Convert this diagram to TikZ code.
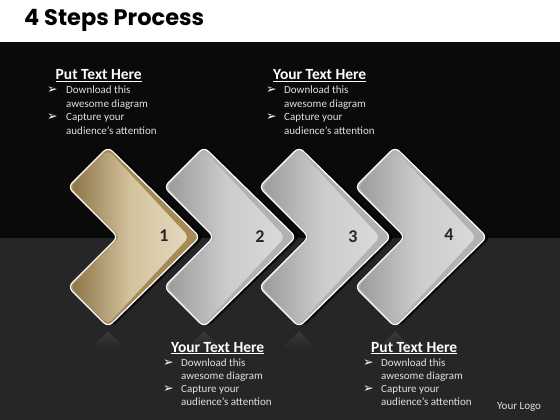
\documentclass[tikz,border=0pt]{standalone}
\usepackage{fontspec}
\setmainfont{Carlito}
\newfontfamily\titlefont{Poppins}
\newfontfamily\symfont{DejaVu Sans}
\usetikzlibrary{fadings}
\definecolor{goldD}{HTML}{8A7346}
\definecolor{goldM}{HTML}{D4C29D}
\definecolor{goldL}{HTML}{E4D9BF}
\definecolor{goldB}{HTML}{A58A55}
\definecolor{grayD}{HTML}{9A9A9A}
\definecolor{grayM}{HTML}{CBCBCB}
\definecolor{grayL}{HTML}{DADADA}
\definecolor{grayB}{HTML}{B2B2B2}
\newcommand\chevouter[1]{(#1+0,187) -- (#1+40,147) -- (#1+132,237) -- (#1+40,327) -- (#1+0,287) -- (#1+50,237) -- cycle}
\newcommand\chevinner[1]{(#1+3,187) -- (#1+40,150) -- (#1+121,237) -- (#1+40,324) -- (#1+3,287) -- (#1+52,237) -- cycle}
\tikzset{
  numtxt/.style={font=\bfseries\fontsize{18}{18}\selectfont, text=black!85},
  headtxt/.style={anchor=base west, font=\bfseries\fontsize{15.5}{16}\selectfont, text=white, inner sep=0},
  bodytxt/.style={anchor=base west, font=\fontsize{11}{12}\selectfont, text=black!12, inner sep=0},
  bultxt/.style={anchor=base west, font=\symfont\fontsize{12.5}{12}\selectfont, text=white, inner sep=0},
}
\begin{document}
\begin{tikzpicture}[x=1pt,y=-1pt]
\useasboundingbox (0,0) rectangle (560,420);
\fill[white] (0,0) rectangle (560,42);
\fill[black!96] (0,42) rectangle (560,238);
\fill[black!85] (0,238) rectangle (560,420);
\node[anchor=base west, inner sep=0, font=\titlefont\bfseries\fontsize{22.5}{24}\selectfont, text=black] (title) at (24,26) {4 Steps Process};
% reflections
\foreach \ox in {68,164,259,355}{
  \fill[white, opacity=0.09, path fading=south] (\ox+40,331) -- (\ox+22,349) -- (\ox+58,349) -- cycle;
}
% chevrons
\foreach \ox/\cb/\cd/\cm/\cl in {355/grayB/grayD/grayM/grayL,259/grayB/grayD/grayM/grayL,164/grayB/grayD/grayM/grayL,68/goldB/goldD/goldM/goldL}{
  \fill[black, opacity=0.85, rounded corners=6] \chevouter{\ox+4};
  \fill[\cb, draw=white, line width=1.2pt, rounded corners=6] \chevouter{\ox};
  \shade[left color=\cd, right color=\cl, middle color=\cm, rounded corners=5] \chevinner{\ox};
}
\node[numtxt] (n1) at (164,236) {1};
\node[numtxt] (n2) at (260,237) {2};
\node[numtxt] (n3) at (353,237) {3};
\node[numtxt] (n4) at (449,235) {4};
% text blocks
\node[headtxt] (h1) at (55.5,80) {\underline{Put Text Here}};
\node[bultxt] (b1a) at (47,94) {➢};
\node[bodytxt] (t1a) at (66,94) {Download this};
\node[bodytxt] (t1b) at (66,107.5) {awesome diagram};
\node[bultxt] (b1b) at (47,121) {➢};
\node[bodytxt] (t1c) at (66,121) {Capture your};
\node[bodytxt] (t1d) at (66,134) {audience’s attention};

\node[headtxt] (h2) at (273,80) {\underline{Your Text Here}};
\node[bultxt] (b2a) at (266,94) {➢};
\node[bodytxt] (t2a) at (284,94) {Download this};
\node[bodytxt] (t2b) at (284,107.5) {awesome diagram};
\node[bultxt] (b2b) at (266,121) {➢};
\node[bodytxt] (t2c) at (284,121) {Capture your};
\node[bodytxt] (t2d) at (284,134) {audience’s attention};

\node[headtxt] (h3) at (171,352) {\underline{Your Text Here}};
\node[bultxt] (b3a) at (163,366) {➢};
\node[bodytxt] (t3a) at (181,366) {Download this};
\node[bodytxt] (t3b) at (181,379) {awesome diagram};
\node[bultxt] (b3b) at (163,392.5) {➢};
\node[bodytxt] (t3c) at (181,392.5) {Capture your};
\node[bodytxt] (t3d) at (181,405) {audience’s attention};

\node[headtxt] (h4) at (371,352) {\underline{Put Text Here}};
\node[bultxt] (b4a) at (363,366) {➢};
\node[bodytxt] (t4a) at (381,366) {Download this};
\node[bodytxt] (t4b) at (381,379) {awesome diagram};
\node[bultxt] (b4b) at (363,392.5) {➢};
\node[bodytxt] (t4c) at (381,392.5) {Capture your};
\node[bodytxt] (t4d) at (381,405) {audience’s attention};

\node[bodytxt] (logo) at (497,409) {Your Logo};
\end{tikzpicture}
\end{document}
